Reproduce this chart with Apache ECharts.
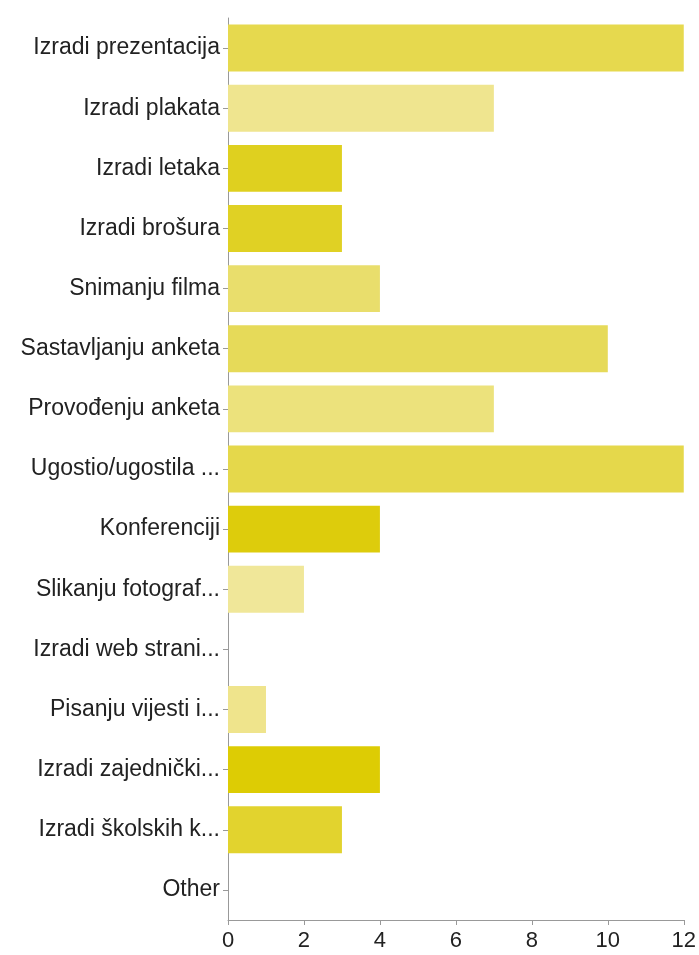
<!DOCTYPE html>
<html><head><meta charset="utf-8">
<script src="https://cdn.jsdelivr.net/npm/echarts@6/dist/echarts.min.js"></script>
<style>html,body{margin:0;padding:0;background:#fff}#c{width:699px;height:955px}</style>
</head><body><div id="c"></div>
<script>
const categories = ["Izradi prezentacija","Izradi plakata","Izradi letaka","Izradi brošura","Snimanju filma","Sastavljanju anketa","Provođenju anketa","Ugostio/ugostila ...","Konferenciji","Slikanju fotograf...","Izradi web strani...","Pisanju vijesti i...","Izradi zajednički...","Izradi školskih k...","Other"];
const values = [12,7,3,3,4,10,7,12,4,2,0,1,4,3,0];
const barColors = ["#e6d94e","#efe58f","#dfd01f","#e0d124","#e9de6c","#e6da59","#ece27c","#e5d84b","#ddcc0c","#f0e799","#f0e799","#efe48c","#ddcc04","#e2d32e","#e2d32e"];
const xTicks = [0,2,4,6,8,10,12];
const FONT = '"Liberation Sans", Arial, Helvetica, sans-serif';

const chart = echarts.init(document.getElementById('c'), null, {renderer:'canvas'});
chart.setOption({
  animation:false,
  grid:{left:228,right:15,top:18,bottom:35,containLabel:false},
  xAxis:{type:'value',min:xTicks[0],max:xTicks[xTicks.length-1],interval:2,
    axisLine:{show:true,lineStyle:{color:'#999',width:1}},
    axisTick:{show:true,length:5,lineStyle:{color:'#999'}},
    splitLine:{show:false},
    axisLabel:{color:'#222',fontSize:22,fontFamily:FONT,margin:10}},
  yAxis:{type:'category',data:categories,inverse:true,
    axisLine:{show:true,lineStyle:{color:'#999',width:1}},
    axisTick:{show:true,length:5,alignWithLabel:true,lineStyle:{color:'#999'}},
    axisLabel:{color:'#222',fontSize:23,fontFamily:FONT,margin:8}},
  series:[{type:'bar',data:values.map((v,i)=>({value:v,itemStyle:{color:barColors[i]}})),
    barCategoryGap:'22%'}]
});
</script></body></html>
